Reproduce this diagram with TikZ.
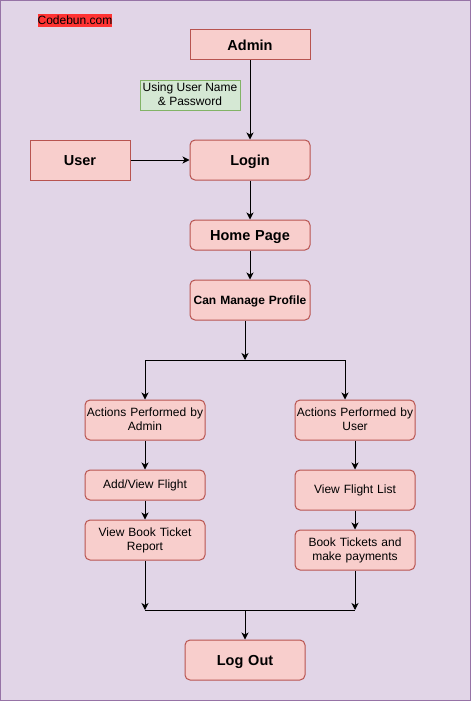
\documentclass[tikz,border=0pt]{standalone}
\usepackage{fontspec}
\setmainfont{Liberation Sans}
\usetikzlibrary{arrows.meta,calc}
\definecolor{bgc}{HTML}{E1D5E7}
\definecolor{bgline}{HTML}{9673A6}
\definecolor{boxfill}{HTML}{F8CECC}
\definecolor{boxline}{HTML}{B85450}
\definecolor{gfill}{HTML}{D5E8D4}
\definecolor{gline}{HTML}{82B366}
\definecolor{hl}{HTML}{FF3333}
\newcommand\mst{\rule[-2.4pt]{0pt}{11pt}}
\begin{document}
\begin{tikzpicture}[x=1pt,y=-1pt,
  box/.style={draw=boxline,fill=boxfill,line width=1pt,inner sep=0pt,
    minimum width=120pt,minimum height=40pt,align=center,text width=118pt},
  rbox/.style={box,rounded corners=5pt},
  big/.style={font=\fontsize{14.5}{17}\selectfont\bfseries,text height=13pt,text depth=2.6pt},
  med/.style={font=\fontsize{12}{14}\selectfont\bfseries,text height=11pt,text depth=2.4pt},
  reg/.style={font=\fontsize{12}{14}\selectfont},
  arr/.style={line width=1pt,-{Stealth[length=7pt,width=7pt,inset=2pt]}},
  ln/.style={line width=1pt}]
\useasboundingbox (0,0) rectangle (471,701);
\fill[bgc] (0,0) rectangle (471,701);
\draw[bgline,line width=1pt] (0.5,0.5) rectangle (470.5,700.5);

\node[fill=hl,inner sep=0pt,minimum width=74pt,minimum height=13pt,font=\fontsize{12}{14}\selectfont,text height=10pt,text depth=2pt] (logo) at (75,20.5) {Codebun.com};

\node[box,big,minimum height=30pt] (admin) at (250,45) {Admin};
\node[draw=gline,fill=gfill,line width=1pt,inner sep=0pt,minimum width=100pt,minimum height=30pt,align=center,reg] (cred) at (190,95) {\mst Using User Name\\\& Password\mst};
\node[box,big,minimum width=100pt,text width=98pt] (user) at (80,160) {User};
\node[rbox,big] (login) at (250,160) {Login};
\node[rbox,big,minimum height=30pt] (home) at (250,235) {Home Page};
\node[rbox,med] (profile) at (250,300) {Can Manage Profile};

\node[rbox,reg] (aadmin) at (145,420) {\mst Actions Performed by\\Admin\mst};
\node[rbox,reg,minimum height=30pt] (addview) at (145,485) {\mst Add/View Flight\mst};
\node[rbox,reg] (report) at (145,540) {\mst View Book Ticket\\Report\mst};

\node[rbox,reg] (auser) at (355,420) {\mst Actions Performed by\\User\mst};
\node[rbox,reg] (vfl) at (355,490) {\mst View Flight List\mst};
\node[rbox,reg] (book) at (355,550) {\mst Book Tickets and\\make payments\mst};

\node[rbox,big] (logout) at (245,660) {Log Out};

\draw[arr] (admin) -- (login);
\draw[arr] (user) -- (login);
\draw[arr] (login) -- (home);
\draw[arr] (home) -- (profile);

\coordinate (split) at (245,360);
\coordinate (sl) at (145,360);
\coordinate (sr) at (345,360);
\draw[arr] (split |- profile.south) -- (split);
\draw[ln] (sl) -- (sr);
\draw[arr] (sl) -- (sl |- aadmin.north);
\draw[arr] (sr) -- (sr |- auser.north);

\draw[arr] (aadmin) -- (addview);
\draw[arr] (addview) -- (report);
\draw[arr] (auser) -- (vfl);
\draw[arr] (vfl) -- (book);

\coordinate (ml) at (145,610);
\coordinate (mr) at (355,610);
\coordinate (mm) at (245,610);
\draw[arr] (report.south) -- (ml);
\draw[arr] (book.south) -- (mr);
\draw[ln] (ml) -- (mr);
\draw[arr] (mm) -- (logout.north);
\end{tikzpicture}
\end{document}
